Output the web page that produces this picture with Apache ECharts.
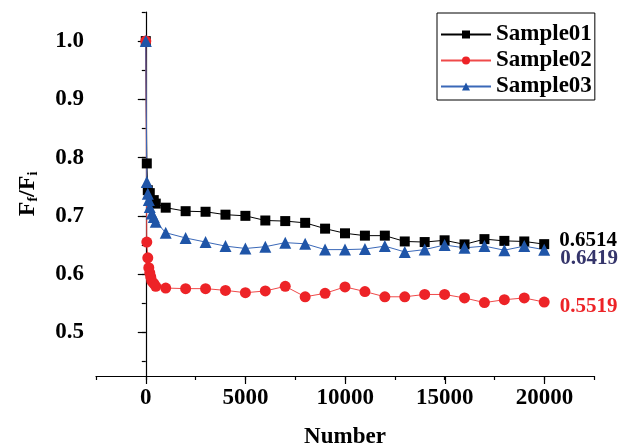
<!DOCTYPE html>
<html>
<head>
<meta charset="utf-8">
<script src="https://cdn.jsdelivr.net/npm/echarts@6/dist/echarts.min.js"></script>
<style>
html, body { margin: 0; padding: 0; background: #fff; }
#chart { width: 620px; height: 446px; }
</style>
</head>
<body>
<div id="chart"></div>
<script>
// data
var sample01X = [0, 50, 100, 200, 400, 500, 1000, 2000, 3000, 4000, 5000, 6000, 7000, 8000, 9000, 10000, 11000, 12000, 13000, 14000, 15000, 16000, 17000, 18000, 19000, 20000];
var sample01Y = [1.0, 0.790, 0.744, 0.739, 0.727, 0.721, 0.714, 0.708, 0.707, 0.702, 0.700, 0.692, 0.691, 0.688, 0.678, 0.670, 0.666, 0.666, 0.656, 0.655, 0.658, 0.651, 0.660, 0.657, 0.656, 0.6514];

var sample02X = [0, 50, 100, 150, 200, 250, 300, 400, 500, 1000, 2000, 3000, 4000, 5000, 6000, 7000, 8000, 9000, 10000, 11000, 12000, 13000, 14000, 15000, 16000, 17000, 18000, 19000, 20000];
var sample02Y = [1.0, 0.655, 0.628, 0.611, 0.602, 0.595, 0.588, 0.584, 0.579, 0.576, 0.575, 0.575, 0.572, 0.568, 0.571, 0.579, 0.561, 0.567, 0.578, 0.570, 0.561, 0.561, 0.565, 0.565, 0.559, 0.551, 0.556, 0.559, 0.5519];

var sample03X = [0, 50, 100, 150, 200, 300, 400, 500, 1000, 2000, 3000, 4000, 5000, 6000, 7000, 8000, 9000, 10000, 11000, 12000, 13000, 14000, 15000, 16000, 17000, 18000, 19000, 20000];
var sample03Y = [1.0, 0.758, 0.738, 0.727, 0.715, 0.704, 0.698, 0.690, 0.671, 0.662, 0.655, 0.648, 0.644, 0.647, 0.654, 0.652, 0.642, 0.642, 0.643, 0.648, 0.638, 0.642, 0.650, 0.645, 0.648, 0.641, 0.648, 0.6419];

var seriesNames = ['Sample01', 'Sample02', 'Sample03'];

var FONT = '"Liberation Serif", "DejaVu Serif", serif';

function buildData(xs, ys, labelColor, labelOffset) {
	var out = [];
	for (var i = 0; i < xs.length; i++) {
		var item = { value: [xs[i], ys[i]] };
		if (i === xs.length - 1) {
			// final value written next to the last point
			item.label = {
				show: true,
				position: 'right',
				distance: 10,
				offset: labelOffset,
				formatter: function (p) { return p.value[1].toFixed(4); },
				color: labelColor,
				fontFamily: FONT,
				fontWeight: 'bold',
				fontSize: 21
			};
		}
		out.push(item);
	}
	return out;
}

var myChart = echarts.init(document.getElementById('chart'), null, { renderer: 'canvas' });

var axisLineStyle = { color: '#000', width: 1.2 };
var labelStyle = { color: '#000', fontFamily: FONT, fontWeight: 'bold', fontSize: 23 };

var option = {
	animation: false,
	backgroundColor: '#fff',
	legend: {
		data: seriesNames,
		orient: 'vertical',
		left: 437,
		top: 13,
		padding: [10, 3, 2, 3],
		itemGap: 3,
		itemWidth: 50,
		itemHeight: 10,
		borderColor: '#000',
		borderWidth: 1,
		textStyle: { color: '#000', fontFamily: FONT, fontWeight: 'bold', fontSize: 23 }
	},
	// fixed plot boxes, no automatic shrinking to fit labels
	grid: [
		{ left: 96, right: 26, top: 12, bottom: 70, outerBoundsMode: 'none' },      // main plot
		{ left: 96, right: 26, top: 12, bottom: 84.6, outerBoundsMode: 'none' },    // y minor ticks 0.45 - 1.05
		{ left: 96, right: 26, top: 41.1, bottom: 113.7, outerBoundsMode: 'none' }, // y major ticks 0.5 - 1.0
		{ left: 145.8, right: 75.5, top: 12, bottom: 70, outerBoundsMode: 'none' }  // x major ticks 0 - 20000
	],
	xAxis: [
		{
			gridIndex: 0, type: 'value', min: -2500, max: 22500, interval: 2500,
			name: 'Number', nameLocation: 'middle', nameGap: 50,
			nameTextStyle: labelStyle,
			axisLine: { show: true, lineStyle: axisLineStyle },
			axisTick: { show: true, inside: false, length: 4, lineStyle: axisLineStyle },
			axisLabel: { show: false },
			splitLine: { show: false }
		},
		{ gridIndex: 1, type: 'value', min: -2500, max: 22500, interval: 2500, show: false },
		{ gridIndex: 2, type: 'value', min: -2500, max: 22500, interval: 2500, show: false },
		{
			gridIndex: 3, type: 'value', min: 0, max: 20000, interval: 5000,
			axisLine: { show: false },
			axisTick: { show: true, inside: false, length: 8, lineStyle: axisLineStyle },
			axisLabel: Object.assign({ margin: 11, formatter: function (v) { return String(v); } }, labelStyle),
			splitLine: { show: false }
		}
	],
	yAxis: [
		{
			gridIndex: 0, type: 'value', min: 0.425, max: 1.05, interval: 0.025,
			name: '{b|F}{s|f}{b|/F}{s|i}', nameLocation: 'middle', nameGap: 56, nameRotate: 90,
			nameTextStyle: {
				rich: {
					b: { color: '#000', fontFamily: FONT, fontWeight: 'bold', fontSize: 24 },
					s: { color: '#000', fontFamily: FONT, fontWeight: 'bold', fontSize: 14, verticalAlign: 'bottom', padding: [10, 0, 0, 0] }
				}
			},
			axisLine: { show: true, lineStyle: axisLineStyle },
			axisTick: { show: false },
			axisLabel: { show: false },
			splitLine: { show: false }
		},
		{
			gridIndex: 1, type: 'value', min: 0.45, max: 1.05, interval: 0.05,
			axisLine: { show: false },
			axisTick: { show: true, inside: false, length: 4, lineStyle: axisLineStyle },
			axisLabel: { show: false },
			splitLine: { show: false }
		},
		{
			gridIndex: 2, type: 'value', min: 0.5, max: 1.0, interval: 0.1,
			axisLine: { show: false },
			axisTick: { show: true, inside: false, length: 8, lineStyle: axisLineStyle },
			axisLabel: Object.assign({ margin: 12, formatter: function (v) { return v.toFixed(1); } }, labelStyle),
			splitLine: { show: false }
		},
		{ gridIndex: 3, type: 'value', min: 0.425, max: 1.05, interval: 0.025, show: false }
	],
	series: [
		{
			name: seriesNames[0], type: 'line', xAxisIndex: 0, yAxisIndex: 0,
			symbol: 'rect', symbolSize: 10,
			itemStyle: { color: '#000' },
			lineStyle: { color: '#000', width: 1 },
			data: buildData(sample01X, sample01Y, '#000', [0, -4])
		},
		{
			name: seriesNames[1], type: 'line', xAxisIndex: 0, yAxisIndex: 0,
			symbol: 'circle', symbolSize: 11,
			itemStyle: { color: '#ed2327' },
			lineStyle: { color: '#ef4a4a', width: 1 },
			data: buildData(sample02X, sample02Y, '#ed2327', [0, 4])
		},
		{
			name: seriesNames[2], type: 'line', xAxisIndex: 0, yAxisIndex: 0,
			symbol: 'triangle', symbolSize: 12,
			itemStyle: { color: '#1f55a8' },
			lineStyle: { color: '#3a68b8', width: 1 },
			data: buildData(sample03X, sample03Y, '#35356b', [0, 9])
		}
	]
};

myChart.setOption(option);
</script>
</body>
</html>
